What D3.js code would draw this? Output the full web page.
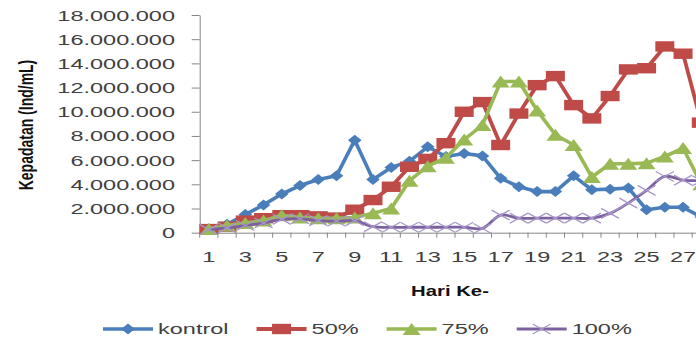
<!DOCTYPE html>
<html>
<head>
<meta charset="utf-8">
<script src="https://cdn.jsdelivr.net/npm/d3@7"></script>
<style>
  body { margin: 0; background: #fff; }
  svg { display: block; }
  text { font-family: "Liberation Sans", Arial, sans-serif; }
</style>
</head>
<body>
<svg id="chart" width="696" height="342"></svg>
<script>
// Population density per day (Ind/mL) for each treatment
const days = [1, 2, 3, 4, 5, 6, 7, 8, 9, 10, 11, 12, 13, 14, 15, 16, 17, 18, 19, 20, 21, 22, 23, 24, 25, 26, 27, 28];
const kontrol = [300000, 700000, 1500000, 2300000, 3200000, 3900000, 4400000, 4700000, 7650000, 4400000, 5400000, 5900000, 7100000, 6300000, 6550000, 6350000, 4500000, 3800000, 3400000, 3400000, 4700000, 3550000, 3600000, 3700000, 1900000, 2100000, 2100000, 1300000];
const p50 = [300000, 500000, 1000000, 1200000, 1450000, 1450000, 1350000, 1250000, 1900000, 2700000, 3800000, 5450000, 6100000, 7400000, 10000000, 10800000, 7250000, 9850000, 12200000, 12950000, 10550000, 9450000, 11300000, 13500000, 13600000, 15400000, 14800000, 9100000];
const p75 = [300000, 600000, 800000, 1000000, 1450000, 1250000, 1200000, 1200000, 1250000, 1600000, 2000000, 4300000, 5500000, 6200000, 7700000, 8900000, 12500000, 12500000, 10100000, 8100000, 7250000, 4600000, 5700000, 5700000, 5750000, 6300000, 7000000, 4000000];
const p100 = [250000, 400000, 600000, 800000, 1100000, 1150000, 1000000, 950000, 1000000, 500000, 450000, 450000, 450000, 450000, 450000, 350000, 1450000, 1200000, 1200000, 1200000, 1200000, 1200000, 1600000, 2450000, 3500000, 4650000, 4350000, 4300000];
const seriesNames = ["kontrol", "50%", "75%", "100%"];
const yTicks = [0, 2000000, 4000000, 6000000, 8000000, 10000000, 12000000, 14000000, 16000000, 18000000];
const xTickLabels = [1, 3, 5, 7, 9, 11, 13, 15, 17, 19, 21, 23, 25, 27];

const colors = ["#4a7ebb", "#be4b48", "#98b954", "#7d60a0"];
const TX = 1.68;          // horizontal stretch applied to text
const svg = d3.select("#chart");

const plot = { left: 199.7, top: 15, bottom: 232.7, band: 18.24 };
const x = d3.scaleBand().domain(days)
  .range([plot.left, plot.left + days.length * plot.band]).padding(0);
const y = d3.scaleLinear().domain([0, 18000000]).range([plot.bottom, plot.top]);
const cx = d => x(d) + x.bandwidth() / 2;

const dotFormat = d3.formatLocale({ decimal: ",", thousands: ".", grouping: [3], currency: ["", ""] }).format(",");

// Y axis
const yAxis = svg.append("g").attr("transform", `translate(${plot.left},0)`)
  .call(d3.axisLeft(y).tickValues(yTicks).tickSize(8).tickSizeOuter(0).tickFormat(dotFormat));
yAxis.select(".domain").attr("stroke", "#868686");
yAxis.selectAll(".tick line").attr("stroke", "#868686");
yAxis.selectAll(".tick text")
  .attr("x", null).attr("dy", "0.36em")
  .attr("transform", `translate(-24.7,0) scale(${TX},1)`)
  .attr("text-anchor", "end")
  .attr("font-size", 14).attr("fill", "#404040")
  .style("font-family", "'Liberation Sans', Arial, sans-serif");

// X axis: labels on odd days, tick marks between categories
const xAxis = svg.append("g").attr("transform", `translate(0,${plot.bottom})`)
  .call(d3.axisBottom(x).tickValues(xTickLabels).tickSize(0).tickSizeOuter(0));
xAxis.select(".domain").attr("stroke", "#868686");
xAxis.selectAll(".tick text")
  .attr("y", 29.6).attr("dy", null)
  .attr("transform", `scale(${TX},1)`)
  .attr("font-size", 14).attr("fill", "#404040")
  .style("font-family", "'Liberation Sans', Arial, sans-serif");
const bounds = days.map(d => x(d)).concat([x.range()[1]]);
xAxis.selectAll("line.cat").data(bounds).join("line").attr("class", "cat")
  .attr("x1", d => d).attr("x2", d => d).attr("y1", 0).attr("y2", 5)
  .attr("stroke", "#868686");

// Marker shapes
const markers = [
  g => g.append("path").attr("d", "M0,-5.5L6.8,0L0,5.5L-6.8,0Z").attr("fill", colors[0]),
  g => g.append("rect").attr("x", -9.5).attr("y", -5.2).attr("width", 19).attr("height", 10.4).attr("fill", colors[1]),
  g => g.append("path").attr("d", "M0,-6L9,6L-9,6Z").attr("fill", colors[2]),
  g => g.append("path").attr("d", "M-9,-5L9,5M-9,5L9,-5").attr("stroke", "#a797c8").attr("stroke-width", 1.3).attr("fill", "none")
];

const seriesData = [kontrol, p50, p75, p100];
const widths = [3.6, 3.8, 3.6, 2.8];
seriesData.forEach((vals, i) => {
  const pts = days.map((d, k) => ({ day: d, v: vals[k] }));
  const line = d3.line().x(p => cx(p.day)).y(p => y(p.v))
    .curve(i === 3 ? d3.curveCatmullRom.alpha(0.5) : d3.curveLinear);
  const g = svg.append("g");
  g.append("path").datum(pts).attr("d", line)
    .attr("fill", "none").attr("stroke", colors[i])
    .attr("stroke-width", widths[i]).attr("stroke-linejoin", "round");
  g.selectAll("g.m").data(pts).join("g").attr("class", "m")
    .attr("transform", p => `translate(${cx(p.day)},${y(p.v)})`)
    .each(function () { markers[i](d3.select(this)); });
});

// Axis titles
svg.append("text")
  .attr("transform", `translate(33.3,125) scale(1.5,1) rotate(-90)`)
  .attr("text-anchor", "middle").attr("font-size", 14).attr("font-weight", "bold")
  .attr("fill", "#111").text("Kepadatan (Ind/mL)");
svg.append("text")
  .attr("transform", `translate(450,296) scale(1.45,1)`)
  .attr("text-anchor", "middle").attr("font-size", 14).attr("font-weight", "bold")
  .attr("fill", "#111").text("Hari Ke-");

// Legend
let lx = 103;
seriesNames.forEach((name, i) => {
  const g = svg.append("g").attr("transform", `translate(${lx},329)`);
  g.append("line").attr("x1", 0).attr("x2", 50).attr("y1", 0).attr("y2", 0)
    .attr("stroke", colors[i]).attr("stroke-width", widths[i]);
  const m = g.append("g").attr("transform", "translate(25,0)");
  markers[i](m);
  const t = g.append("text").attr("transform", `translate(55,0) scale(${TX},1)`)
    .attr("dy", "0.36em").attr("font-size", 14).attr("fill", "#404040").text(name);
  lx += 55 + t.node().getComputedTextLength() * TX + 28;
});
</script>
</body>
</html>
